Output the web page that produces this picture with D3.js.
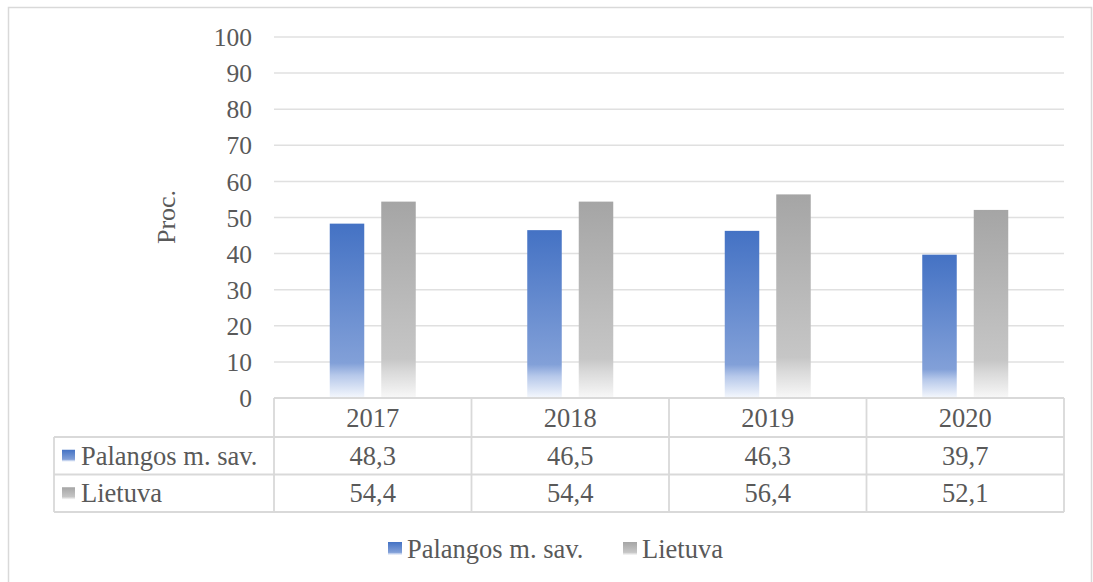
<!DOCTYPE html>
<html>
<head>
<meta charset="utf-8">
<script src="https://cdn.jsdelivr.net/npm/d3@7"></script>
<style>
  body { margin: 0; background: #fff; }
  svg text { font-family: "Liberation Serif", "Times New Roman", serif; fill: #595959; }
</style>
</head>
<body>
<div id="chart"></div>
<script>
// data
const years = ["2017", "2018", "2019", "2020"];
const seriesNames = ["Palangos m. sav.", "Lietuva"];
const palanga = [48.3, 46.5, 46.3, 39.7];
const lietuva = [54.4, 54.4, 56.4, 52.1];
const yTicks = [0, 10, 20, 30, 40, 50, 60, 70, 80, 90, 100];

const W = 1093, H = 582;
const fmt = v => v.toFixed(1).replace(".", ",");
const fs = "26.5px";

let svg = d3.select("#chart").append("svg")
    .attr("width", W).attr("height", H);

// gradients (light at the bottom, like the office "light gradient")
let defs = svg.append("defs");
let grads = [
    {id: "gBlue", stops: [[0, "#4472C4"], [0.8, "#82a0d8"], [0.87, "#b6c8ea"], [1, "#f5f8fd"]]},
    {id: "gGray", stops: [[0, "#A5A5A5"], [0.8, "#c6c6c6"], [0.87, "#dadada"], [1, "#f8f8f8"]]}
];
grads.forEach(g => {
    let lg = defs.append("linearGradient").attr("id", g.id)
        .attr("x1", 0).attr("y1", 0).attr("x2", 0).attr("y2", 1);
    g.stops.forEach(s => lg.append("stop").attr("offset", s[0]).attr("stop-color", s[1]));
});
const fills = ["url(#gBlue)", "url(#gGray)"];

// outer frame
svg.append("rect")
    .attr("x", 8.5).attr("y", 7.5).attr("width", 1083).attr("height", 590)
    .attr("fill", "none").attr("stroke", "#d9d9d9").attr("stroke-width", 1.5);

// scales
let x = d3.scaleBand().domain(years).range([274, 1064]);
let y = d3.scaleLinear().domain([0, 100]).range([398, 37]);
let inner = d3.scaleBand().domain(seriesNames).range([x.bandwidth() / 2 - 43, x.bandwidth() / 2 + 43]).paddingInner(0.33);

// gridlines
svg.append("g").selectAll("line").data(yTicks).enter().append("line")
    .attr("x1", 274).attr("x2", 1064)
    .attr("y1", d => y(d)).attr("y2", d => y(d))
    .attr("stroke", d => d === 0 ? "#d9d9d9" : "#e0e0e0").attr("stroke-width", 1.5);

// y axis labels
svg.append("g")
    .attr("transform", "translate(252,0)")
    .call(d3.axisLeft(y).tickValues(yTicks).tickSize(0).tickPadding(0))
    .call(g => g.select(".domain").remove())
    .selectAll("text")
    .style("font-size", "25.5px")
    .style("font-family", "Liberation Serif, serif")
    .attr("fill", "#595959")
    .attr("dy", "0.34em");

// axis title
svg.append("text")
    .attr("transform", "translate(175,217) rotate(-90)")
    .attr("text-anchor", "middle")
    .style("font-size", "26px")
    .text("Proc.");

// bars
let series = [palanga, lietuva];
series.forEach((vals, si) => {
    svg.append("g").selectAll("rect").data(vals).enter().append("rect")
        .attr("x", (d, i) => x(years[i]) + inner(seriesNames[si]))
        .attr("width", inner.bandwidth())
        .attr("y", d => y(d))
        .attr("height", d => y(0) - y(d))
        .attr("fill", fills[si]);
});

// data table
const rowTop = [398, 437, 474.5, 512];
const tableLeft = 54;
let tbl = svg.append("g").attr("stroke", "#d9d9d9").attr("stroke-width", 1.8);
// horizontal lines
tbl.append("line").attr("x1", 274).attr("x2", 1064).attr("y1", rowTop[0]).attr("y2", rowTop[0]);
[1, 2, 3].forEach(r => tbl.append("line")
    .attr("x1", tableLeft).attr("x2", 1064).attr("y1", rowTop[r]).attr("y2", rowTop[r]));
// vertical lines
tbl.append("line").attr("x1", tableLeft).attr("x2", tableLeft).attr("y1", rowTop[1]).attr("y2", rowTop[3]);
years.forEach(yr => tbl.append("line")
    .attr("x1", x(yr)).attr("x2", x(yr)).attr("y1", rowTop[0]).attr("y2", rowTop[3]));
tbl.append("line").attr("x1", 1064).attr("x2", 1064).attr("y1", rowTop[0]).attr("y2", rowTop[3]);

// header labels
svg.append("g").selectAll("text").data(years).enter().append("text")
    .attr("x", d => x(d) + x.bandwidth() / 2)
    .attr("y", (rowTop[0] + rowTop[1]) / 2)
    .attr("dy", "0.34em")
    .attr("text-anchor", "middle")
    .style("font-size", fs)
    .text(d => d);

// rows
series.forEach((vals, si) => {
    let cy = (rowTop[si + 1] + rowTop[si + 2]) / 2;
    svg.append("rect")
        .attr("x", 62).attr("y", cy - 6).attr("width", 13).attr("height", 12)
        .attr("fill", fills[si]);
    svg.append("text")
        .attr("x", 81).attr("y", cy).attr("dy", "0.34em")
        .style("font-size", fs)
        .text(seriesNames[si]);
    svg.append("g").selectAll("text").data(vals).enter().append("text")
        .attr("x", (d, i) => x(years[i]) + x.bandwidth() / 2)
        .attr("y", cy).attr("dy", "0.34em")
        .attr("text-anchor", "middle")
        .style("font-size", fs)
        .text(d => fmt(d));
});

// legend
let legendPos = [388, 623];
seriesNames.forEach((name, si) => {
    svg.append("rect")
        .attr("x", legendPos[si]).attr("y", 542).attr("width", 14).attr("height", 13)
        .attr("fill", fills[si]);
    svg.append("text")
        .attr("x", legendPos[si] + 19).attr("y", 548.5).attr("dy", "0.34em")
        .style("font-size", fs)
        .text(name);
});
</script>
</body>
</html>
